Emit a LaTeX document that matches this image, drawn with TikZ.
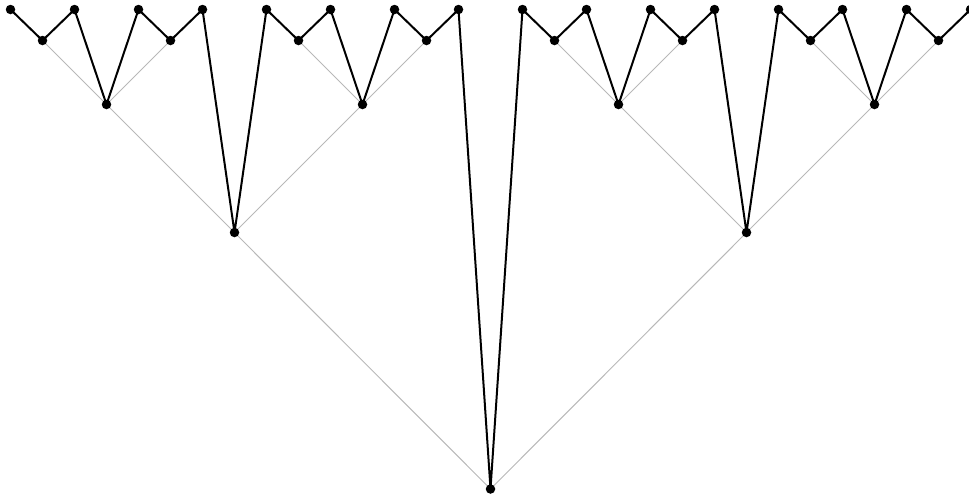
\documentclass[tikz,border=0pt]{standalone}
\begin{document}
\begin{tikzpicture}[x=1pt,y=-1pt,
  treeedge/.style={draw=black!28,line width=1pt},
  zigzag/.style={draw=black,line width=2pt,line join=round},
  dot/.style={circle,fill=black,inner sep=0pt,minimum size=9.5pt}]
\useasboundingbox (0,0) rectangle (969,499);
\foreach \j/\yy in {0/9.5,1/40.5,2/9.5,3/104.5,4/9.5,5/40.5,6/9.5,7/232.5,
  8/9.5,9/40.5,10/9.5,11/104.5,12/9.5,13/40.5,14/9.5,15/489,
  16/9.5,17/40.5,18/9.5,19/104.5,20/9.5,21/40.5,22/9.5,23/232.5,
  24/9.5,25/40.5,26/9.5,27/104.5,28/9.5,29/40.5,30/9.5}
  \coordinate (v\j) at ({10.5+32*\j},\yy);
% binary tree edges (gray)
\foreach \p/\c in {15/7,15/23,7/3,7/11,23/19,23/27,
  3/1,3/5,11/9,11/13,19/17,19/21,27/25,27/29,
  1/0,1/2,5/4,5/6,9/8,9/10,13/12,13/14,17/16,17/18,21/20,21/22,25/24,25/26,29/28,29/30}
  \draw[treeedge] (v\p) -- (v\c);
% in-order zigzag (black)
\draw[zigzag] (v0) \foreach \j in {1,...,30}{ -- (v\j)};
% dots
\foreach \j in {0,...,30}
  \node[dot] (d\j) at (v\j) {};
\end{tikzpicture}
\end{document}
